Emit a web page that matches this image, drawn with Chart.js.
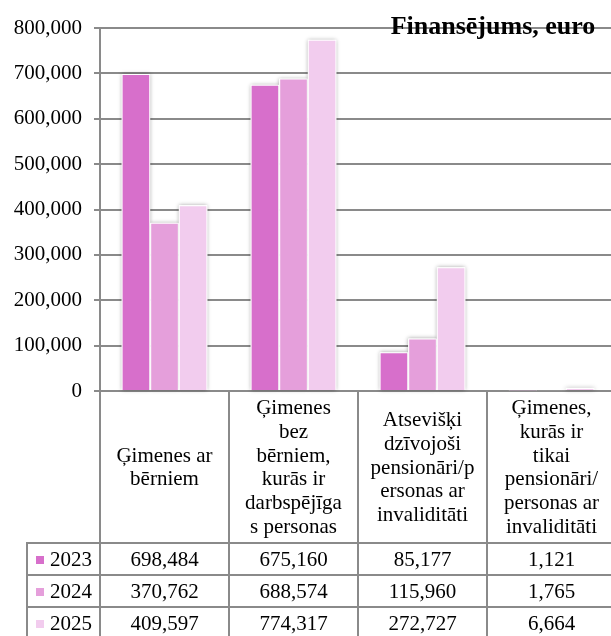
<!DOCTYPE html>
<html>
<head>
<meta charset="utf-8">
<script src="https://cdn.jsdelivr.net/npm/chart.js@4/dist/chart.umd.min.js"></script>
<style>
  html, body { margin: 0; padding: 0; background: #fff; overflow: hidden; }
  #wrap { width: 611px; height: 636px; overflow: hidden; position: relative; }
  canvas { display: block; }
</style>
</head>
<body>
<div id="wrap"><canvas id="c" width="616" height="636"></canvas></div>
<script>
// Household groups (header lines as they wrap in the table)
const categories = [
  ["Ģimenes ar", "bērniem"],
  ["Ģimenes", "bez", "bērniem,", "kurās ir", "darbspējīga", "s personas"],
  ["Atsevišķi", "dzīvojoši", "pensionāri/p", "ersonas ar", "invaliditāti"],
  ["Ģimenes,", "kurās ir", "tikai", "pensionāri/", "personas ar", "invaliditāti"]
];
const years = ["2023", "2024", "2025"];
const values2023 = [698484, 675160, 85177, 1121];
const values2024 = [370762, 688574, 115960, 1765];
const values2025 = [409597, 774317, 272727, 6664];
const titleText = "Finansējums, euro";
const yMax = 800000;
const yStep = 100000;

const colors = ["#D76FCB", "#E59FDB", "#F2CCEE"];
const seriesValues = [values2023, values2024, values2025];
const FONT = "'Liberation Serif', 'Times New Roman', serif";
const LINE = "#8a8a8a";
const fmt = v => v.toLocaleString("en-US");

// Soft halo behind every bar
const barShadow = {
  id: "barShadow",
  beforeDatasetsDraw(chart) {
    const ctx = chart.ctx;
    chart.data.datasets.forEach((ds, di) => {
      const meta = chart.getDatasetMeta(di);
      meta.data.forEach(el => {
        const p = el.getProps(["x", "y", "base", "width"], true);
        const h = p.base - p.y;
        if (h < 0.5) return;
        ctx.save();
        ctx.shadowColor = "rgba(0,0,0,0.35)";
        ctx.shadowBlur = 4;
        ctx.fillStyle = "#fff";
        ctx.fillRect(p.x - p.width / 2, p.y, p.width, h);
        ctx.restore();
      });
    });
  }
};

// Data table under the plot: category headers, legend keys and values
const dataTable = {
  id: "dataTable",
  afterDraw(chart) {
    const ctx = chart.ctx;
    const xs = chart.scales.x;
    const area = chart.chartArea;
    const n = chart.data.labels.length;
    const cw = (area.right - area.left) / n;
    const top = area.bottom;
    const headerBottom = 543;
    const rowH = 32;
    const keyLeft = 27;
    const bottom = chart.height + 4;

    ctx.save();
    ctx.strokeStyle = LINE;
    ctx.lineWidth = 2;
    ctx.beginPath();
    // vertical lines at category boundaries
    for (let i = 0; i <= n; i++) {
      const x = Math.round(xs.getPixelForValue(0) - cw / 2 + i * cw);
      ctx.moveTo(x, top);
      ctx.lineTo(x, bottom);
    }
    // left edge of key column
    ctx.moveTo(keyLeft, headerBottom);
    ctx.lineTo(keyLeft, bottom);
    // row lines
    for (let r = 0; r < years.length; r++) {
      const y = headerBottom + r * rowH;
      ctx.moveTo(keyLeft - 1, y);
      ctx.lineTo(chart.width, y);
    }
    ctx.stroke();

    ctx.fillStyle = "#000";
    ctx.font = "21px " + FONT;
    ctx.textAlign = "center";
    ctx.textBaseline = "middle";
    const lh = 23.7;
    const hc = (top + headerBottom) / 2 + 1;
    chart.data.labels.forEach((lines, i) => {
      const cx = xs.getPixelForValue(i);
      const y0 = hc - (lines.length - 1) * lh / 2;
      lines.forEach((t, k) => ctx.fillText(t, cx, y0 + k * lh));
    });

    chart.data.datasets.forEach((ds, r) => {
      const cy = headerBottom + r * rowH + rowH / 2 + 1;
      ctx.fillStyle = ds.backgroundColor;
      ctx.fillRect(36, Math.round(cy - 4), 8, 8);
      ctx.fillStyle = "#000";
      ctx.textAlign = "left";
      ctx.fillText(ds.label, 50, cy);
      ctx.textAlign = "center";
      ds.data.forEach((v, i) => ctx.fillText(fmt(v), xs.getPixelForValue(i), cy));
    });
    ctx.restore();
  }
};

// Unit caption in the top-right corner
const cornerTitle = {
  id: "cornerTitle",
  afterDraw(chart) {
    const ctx = chart.ctx;
    ctx.save();
    ctx.fillStyle = "#000";
    ctx.font = "bold 26px " + FONT;
    ctx.textAlign = "center";
    ctx.textBaseline = "alphabetic";
    ctx.fillText(titleText, 493, 34);
    ctx.restore();
  }
};

new Chart(document.getElementById("c"), {
  type: "bar",
  data: {
    labels: categories,
    datasets: years.map((y, i) => ({
      label: y,
      data: seriesValues[i],
      backgroundColor: colors[i],
      borderColor: "#ffffff",
      borderWidth: 1,
      categoryPercentage: 0.665,
      barPercentage: 1.0
    }))
  },
  options: {
    responsive: false,
    devicePixelRatio: 1,
    animation: false,
    layout: { padding: { left: 0, top: 28, right: 0, bottom: 245 } },
    plugins: {
      legend: { display: false },
      tooltip: { enabled: false },
      title: { display: false }
    },
    scales: {
      x: { display: false },
      y: {
        min: 0,
        max: yMax,
        ticks: {
          stepSize: yStep,
          color: "#000",
          font: { family: FONT, size: 21 },
          padding: 12,
          callback: v => fmt(v)
        },
        grid: { color: LINE, lineWidth: 2, tickLength: 6, drawTicks: true },
        border: { color: LINE, width: 2 },
        afterFit(s) { s.width = 100; }
      }
    }
  },
  plugins: [barShadow, dataTable, cornerTitle]
});
</script>
</body>
</html>
